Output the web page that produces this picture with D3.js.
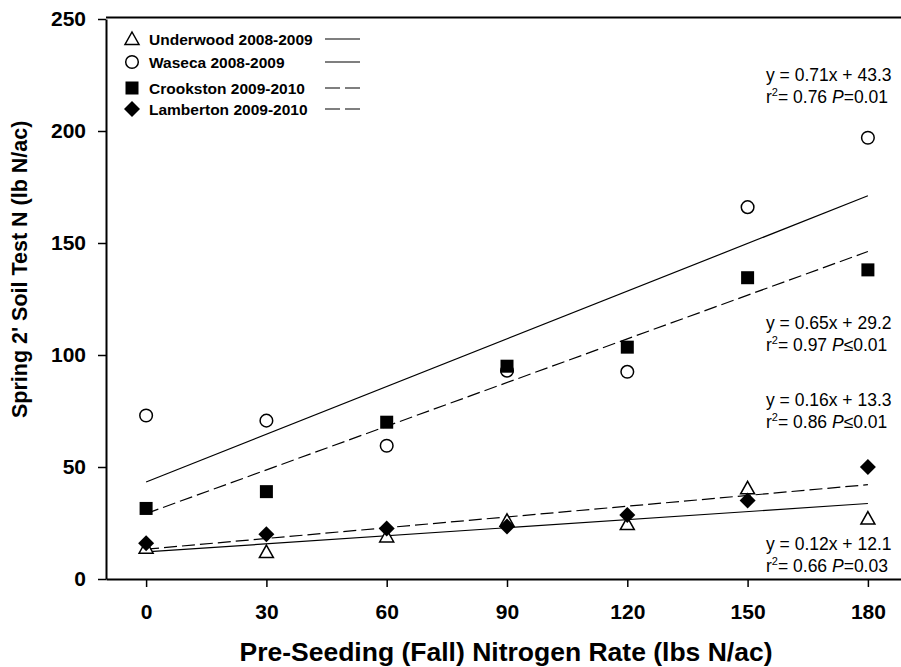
<!DOCTYPE html>
<html>
<head>
<meta charset="utf-8">
<script src="https://cdn.jsdelivr.net/npm/d3@7"></script>
<style>
  html, body { margin: 0; padding: 0; background: #fff; }
  svg { display: block; font-family: "Liberation Sans", Arial, sans-serif; }
</style>
</head>
<body>
<svg id="chart" width="901" height="667"></svg>
<script>
// Pre-seeding nitrogen rates (lbs N/ac)
const rates = [0, 30, 60, 90, 120, 150, 180];

// Spring 2' soil test N (lb N/ac) per site
const underwood = [14, 12, 19, 26, 24.5, 40.5, 27];
const waseca    = [73, 70.7, 59.5, 93, 92.5, 166, 197];
const crookston = [31.5, 39, 70, 95, 103.5, 134.5, 138];
const lamberton = [16, 20, 22.6, 23.4, 28.6, 35, 50];

const siteNames = ["Underwood 2008-2009", "Waseca 2008-2009", "Crookston 2009-2010", "Lamberton 2009-2010"];
const siteSymbols = ["triangle", "circle", "square", "diamond"];

// Linear fits: slope, intercept, r², P text
const slopes     = [0.12, 0.71, 0.65, 0.16];
const intercepts = [12.1, 43.3, 29.2, 13.3];
const rSquared   = ["0.66", "0.76", "0.97", "0.86"];
const pOps       = ["=", "=", "≤", "≤"];
const pValues    = ["0.03", "0.01", "0.01", "0.01"];
const lineDashed = [false, false, true, true];

const yTicks = [0, 50, 100, 150, 200, 250];

const series = [underwood, waseca, crookston, lamberton];

const svg = d3.select("#chart");
const x = d3.scaleLinear().domain([-10, 190]).range([106, 908]);
const y = d3.scaleLinear().domain([0, 250]).range([579, 19]);

// Frame: top border
svg.append("line")
  .attr("x1", x(-10)).attr("x2", x(190))
  .attr("y1", y(250) - 1.5).attr("y2", y(250) - 1.5)
  .attr("stroke", "#000").attr("stroke-width", 2);

// Axes
const yAxis = svg.append("g")
  .attr("transform", `translate(${x(-10)},0)`)
  .call(d3.axisLeft(y).tickValues(yTicks).tickSize(8).tickPadding(12).tickSizeOuter(0));
const xAxis = svg.append("g")
  .attr("transform", `translate(0,${y(0)})`)
  .call(d3.axisBottom(x).tickValues(rates).tickSize(8).tickPadding(17).tickSizeOuter(0));

[yAxis, xAxis].forEach(g => {
  g.select(".domain").attr("stroke", "#000").attr("stroke-width", 2);
  g.selectAll(".tick line").attr("stroke", "#000").attr("stroke-width", 1.5);
  g.selectAll(".tick text")
    .attr("fill", "#000")
    .style("font-family", "'Liberation Sans', Arial, sans-serif")
    .style("font-size", "21px").style("font-weight", "bold");
});

// Axis titles
svg.append("text")
  .attr("x", 506).attr("y", 661)
  .attr("text-anchor", "middle")
  .style("font-size", "26.5px").style("font-weight", "bold")
  .text("Pre-Seeding (Fall) Nitrogen Rate (lbs N/ac)");

svg.append("text")
  .attr("transform", `translate(27,418) rotate(-90)`)
  .attr("text-anchor", "start")
  .style("font-size", "21.5px").style("font-weight", "bold")
  .text("Spring 2' Soil Test N (lb N/ac)");

// Regression lines
const dash = "13,5";
slopes.forEach((m, i) => {
  svg.append("line")
    .attr("x1", x(0)).attr("y1", y(intercepts[i]))
    .attr("x2", x(180)).attr("y2", y(m * 180 + intercepts[i]))
    .attr("stroke", "#000").attr("stroke-width", 1.2)
    .attr("stroke-dasharray", lineDashed[i] ? dash : null);
});

// Marker drawing
function marker(g, kind, cx, cy) {
  if (kind === "triangle") {
    const s = 7;
    g.append("path")
      .attr("d", `M${cx},${cy - 7} L${cx + s},${cy + 5.5} L${cx - s},${cy + 5.5} Z`)
      .attr("fill", "#fff").attr("stroke", "#000").attr("stroke-width", 1.5);
  } else if (kind === "circle") {
    g.append("circle").attr("cx", cx).attr("cy", cy).attr("r", 6.3)
      .attr("fill", "#fff").attr("stroke", "#000").attr("stroke-width", 1.5);
  } else if (kind === "square") {
    const s = 6.5;
    g.append("rect").attr("x", cx - s).attr("y", cy - s).attr("width", 2 * s).attr("height", 2 * s)
      .attr("fill", "#000");
  } else {
    const s = 8;
    g.append("path")
      .attr("d", `M${cx},${cy - s} L${cx + s},${cy} L${cx},${cy + s} L${cx - s},${cy} Z`)
      .attr("fill", "#000");
  }
}

// Data points (filled markers sit above open ones)
const drawOrder = [1, 0, 2, 3];
drawOrder.forEach(i => {
  const g = svg.append("g");
  series[i].forEach((v, j) => marker(g, siteSymbols[i], x(rates[j]), y(v)));
});

// Legend
const legendY = [39, 62, 88, 109];
const legend = svg.append("g");
siteNames.forEach((name, i) => {
  marker(legend, siteSymbols[i], 132, legendY[i]);
  legend.append("text")
    .attr("x", 149).attr("y", legendY[i] + 5.5)
    .style("font-size", "15.5px").style("font-weight", "bold")
    .text(name);
  legend.append("line")
    .attr("x1", 325).attr("x2", 360)
    .attr("y1", legendY[i]).attr("y2", legendY[i])
    .attr("stroke", "#000").attr("stroke-width", 1.2)
    .attr("stroke-dasharray", lineDashed[i] ? "15,5" : null);
});

// Fit annotations
const annotY = [550, 81, 329, 406];
const ann = svg.append("g").style("font-size", "17.5px");
slopes.forEach((m, i) => {
  ann.append("text").attr("x", 766).attr("y", annotY[i])
    .text(`y = ${m.toFixed(2)}x + ${intercepts[i].toFixed(1)}`);
  const t = ann.append("text").attr("x", 766).attr("y", annotY[i] + 22);
  t.append("tspan").text("r");
  t.append("tspan").attr("dy", -7).style("font-size", "11px").text("2");
  t.append("tspan").attr("dy", 7).text(`= ${rSquared[i]} `);
  t.append("tspan").style("font-style", "italic").text("P");
  t.append("tspan").text(`${pOps[i]}${pValues[i]}`);
});
</script>
</body>
</html>
